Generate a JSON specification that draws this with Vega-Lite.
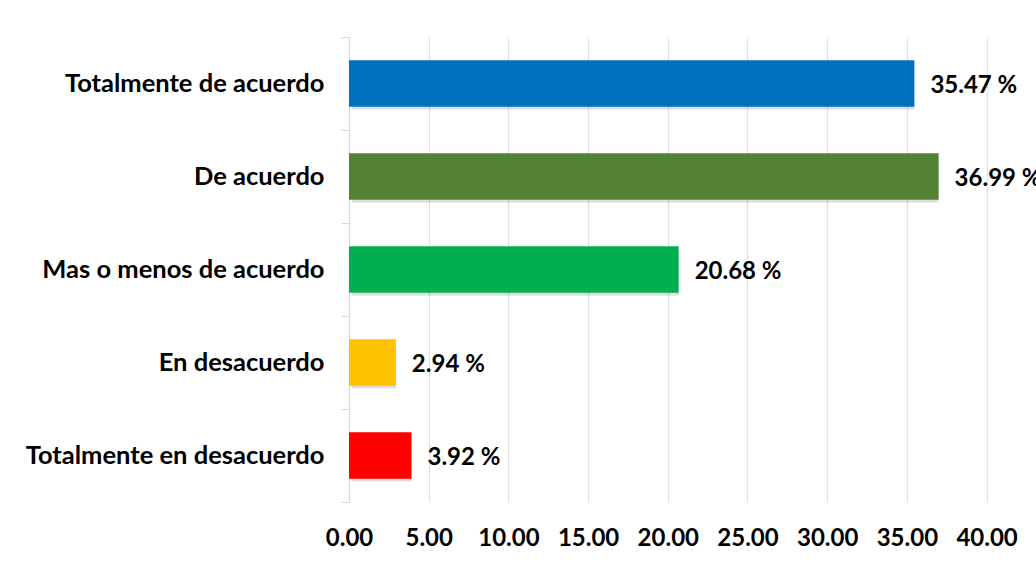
{
  "$schema": "https://vega.github.io/schema/vega-lite/v6.json",
  "autosize": "none",
  "width": 687,
  "height": 465,
  "padding": {"left": 349, "top": 37, "right": 0, "bottom": 65},
  "background": "#ffffff",
  "config": {
    "view": {"stroke": null},
    "font": "Lato",
    "axis": {"labelFont": "Lato", "labelFontWeight": "bold", "labelColor": "#000000"}
  },
  "data": {
    "values": [
      {"cat": "Totalmente de acuerdo", "value": 35.47, "label": "35.47 %"},
      {"cat": "De acuerdo", "value": 36.99, "label": "36.99 %"},
      {"cat": "Mas o menos de acuerdo", "value": 20.68, "label": "20.68 %"},
      {"cat": "En desacuerdo", "value": 2.94, "label": "2.94 %"},
      {"cat": "Totalmente en desacuerdo", "value": 3.92, "label": "3.92 %"}
    ]
  },
  "encoding": {
    "y": {
      "field": "cat",
      "type": "nominal",
      "sort": null,
      "scale": {"paddingInner": 0, "paddingOuter": 0},
      "axis": {
        "title": null,
        "domainColor": "#D9D9D9",
        "tickColor": "#D9D9D9",
        "tickSize": 8,
        "bandPosition": 1,
        "tickExtra": true,
        "labelOffset": 0,
        "labelPadding": 17,
        "labelFontSize": 25.5,
        "labelLimit": 400,
        "grid": false
      }
    },
    "x": {
      "field": "value",
      "type": "quantitative",
      "scale": {"domain": [0, 43.1], "nice": false, "zero": true},
      "axis": {
        "title": null,
        "values": [0, 5, 10, 15, 20, 25, 30, 35, 40],
        "format": ".2f",
        "domain": false,
        "ticks": false,
        "grid": true,
        "gridColor": "#DCE0E8",
        "gridWidth": 1.3,
        "labelPadding": 24,
        "labelFontSize": 24,
        "labelFlush": false
      }
    }
  },
  "layer": [
    {
      "mark": {"type": "bar", "height": {"band": 0.5}, "color": "#000000", "opacity": 0.13, "xOffset": 3, "yOffset": 3, "cornerRadius": 1},
      "encoding": {}
    },
    {
      "mark": {"type": "bar", "height": {"band": 0.5}},
      "encoding": {
        "color": {
          "field": "cat",
          "type": "nominal",
          "scale": {
            "domain": ["Totalmente de acuerdo", "De acuerdo", "Mas o menos de acuerdo", "En desacuerdo", "Totalmente en desacuerdo"],
            "range": ["#0070C0", "#548235", "#00B050", "#FFC000", "#FF0000"]
          },
          "legend": null
        }
      }
    },
    {
      "mark": {"type": "text", "align": "left", "baseline": "middle", "dx": 16, "dy": 2, "fontSize": 24, "fontWeight": "bold", "font": "Lato", "color": "#000000"},
      "encoding": {"text": {"field": "label", "type": "nominal"}}
    }
  ]
}
